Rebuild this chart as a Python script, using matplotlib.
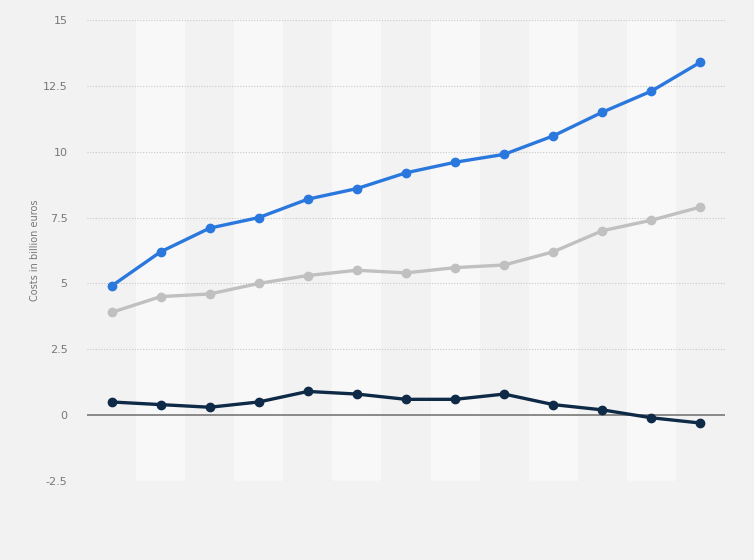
import numpy as np
import matplotlib.pyplot as plt

# values (13 years, labels not shown)
blue_vals = [4.9, 6.2, 7.1, 7.5, 8.2, 8.6, 9.2, 9.6, 9.9, 10.6, 11.5, 12.3, 13.4]
gray_vals = [3.9, 4.5, 4.6, 5.0, 5.3, 5.5, 5.4, 5.6, 5.7, 6.2, 7.0, 7.4, 7.9]
dark_vals = [0.5, 0.4, 0.3, 0.5, 0.9, 0.8, 0.6, 0.6, 0.8, 0.4, 0.2, -0.1, -0.3]
y_ticks = [-2.5, 0, 2.5, 5, 7.5, 10, 12.5, 15]
y_labels = ["-2.5", "0", "2.5", "5", "7.5", "10", "12.5", "15"]

fig = plt.figure(figsize=(7.54, 5.6), dpi=100)
fig.patch.set_facecolor("#f2f2f2")
ax = fig.add_axes([87 / 754, 1 - 481 / 560, 638 / 754, 461 / 560])
ax.set_facecolor("#f2f2f2")

x = np.arange(len(blue_vals))
ax.set_xlim(-0.5, len(x) - 0.5)
ax.set_ylim(-2.5, 15)

# alternating column bands
for i in x:
    if i % 2 == 1:
        ax.axvspan(i - 0.5, i + 0.5, color="#f8f8f8", zorder=0, lw=0)

ax.set_yticks(y_ticks)
ax.set_yticklabels(y_labels)
ax.yaxis.grid(True, linestyle=(0, (1, 1.5)), color="#c8c8c8", linewidth=0.8, zorder=1)
ax.axhline(0, color="#7a7a7a", linewidth=1.2, zorder=2)

for s in ax.spines.values():
    s.set_visible(False)
ax.set_xticks([])
ax.tick_params(axis="y", length=0, pad=14, labelsize=8, labelcolor="#777777")

ax.plot(x, gray_vals, color="#c0c0c0", lw=2.4, marker="o", ms=6, zorder=3)
ax.plot(x, blue_vals, color="#2a78de", lw=2.4, marker="o", ms=6, zorder=4)
ax.plot(x, dark_vals, color="#0e2a47", lw=2.4, marker="o", ms=6, zorder=5)

ax.set_ylabel("Costs in billion euros", fontsize=7, color="#777777")
ax.yaxis.set_label_coords(-(87 - 40) / 638, 0.5)

fig.savefig("out.png", dpi=100, facecolor=fig.get_facecolor())
